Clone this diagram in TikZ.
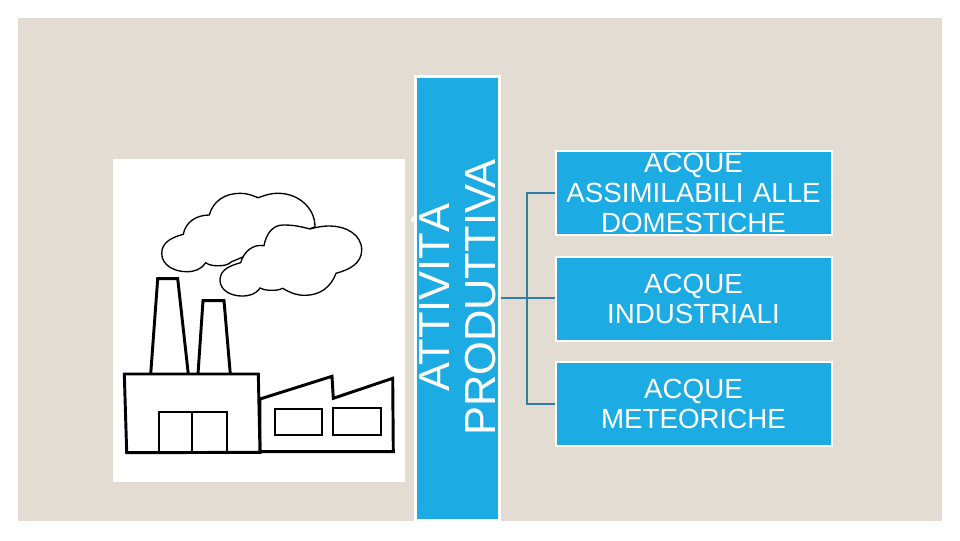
\documentclass[tikz,border=0pt]{standalone}
\usepackage{fontspec}
\setmainfont{Liberation Sans}
\definecolor{sfondo}{HTML}{E2DCD2}
\definecolor{azzurro}{HTML}{1CABE2}
\definecolor{linea}{HTML}{2E7EA6}
\begin{document}
\begin{tikzpicture}[x=0.75pt, y=0.75pt]
	\tikzset{riquadro/.style={rectangle, draw=white, fill=azzurro, text=white, line width=1.5pt, inner sep=0pt, minimum width=207pt, minimum height=62.5pt, align=center, text width=207pt, font=\fontsize{20.8}{22.6}\selectfont},
		colonna/.style={rectangle, draw=white, fill=azzurro, line width=1.6pt, inner sep=0pt, minimum width=63pt, minimum height=333pt},
		scritta/.style={text=white, inner sep=0pt, rotate=90, align=center, font=\fontsize{32.6}{34.5}\selectfont},
		ramo/.style={draw=linea, line width=1.1pt},
		spesso/.style={draw=black, line width=2.2pt, line join=miter, fill=white},
		medio/.style={draw=black, line width=1.5pt},
		nuvola/.style={draw=black, line width=1pt, fill=white}};

	\useasboundingbox (0,0) rectangle (960,-540);
	\fill[white] (0,0) rectangle (960,-540);
	\fill[sfondo] (18,-18) rectangle (942,-521);
	\fill[white] (113,-159) rectangle (405,-482);

	% nuvole
	\path[nuvola] (183.3,-234.3) to[out=195,in=90] (161.7,-253.3) to[out=-90,in=180] (186.7,-271.7) to[out=0,in=235] (205.7,-262.7)
		to[out=-35,in=180] (218.3,-265.7) to[out=0,in=-140] (231.7,-261.7) -- (315,-226.7)
		to[out=90,in=0] (278.3,-193.3) to[out=180,in=20] (258.3,-197.7) to[out=160,in=0] (240,-193.3)
		to[out=180,in=75] (209.3,-215) to[out=180,in=80] cycle;
	\path[nuvola] (310,-229) to[out=165,in=0] (283,-225) to[out=180,in=80] (264,-245.7) to[out=170,in=75] (240.7,-262.7)
		to[out=195,in=90] (220,-280) to[out=-90,in=180] (241.7,-296) to[out=0,in=235] (260,-288)
		to[out=-25,in=180] (271.7,-290.3) to[out=0,in=205] (282.7,-288.3) to[out=-30,in=180] (305,-295.3)
		to[out=0,in=-110] (336,-273.3) to[out=15,in=-90] (361.7,-250) to[out=90,in=0] (330,-226) to[out=180,in=15] cycle;

	% ciminiere
	\path[spesso] (150.7,-374) -- (157.7,-278.7) -- (177.7,-278.7) -- (188.3,-374);
	\path[spesso] (198,-374) -- (203,-300.7) -- (224,-300.7) -- (230.3,-374);

	% capannoni
	\path[spesso] (260,-399) -- (332,-376.3) -- (333.3,-398.3) -- (392.7,-378.3) -- (393.3,-451.7) -- (260,-451.7) -- cycle;
	\path[spesso] (124.3,-374) -- (258.3,-374) -- (260,-452.3) -- (126.7,-452.7) -- cycle;

	\draw[medio] (159,-452) -- (159,-412.3) -- (227.3,-412.3) -- (227.3,-452);
	\draw[medio] (192.3,-412.3) -- (192.3,-452);
	\draw[medio] (274.7,-408.7) rectangle (322,-435.3);
	\draw[medio] (333.3,-408.3) rectangle (380.7,-435.3);

	\node[colonna] (attivita) at (457.5,-298.5) {};
	\node[scritta] (titolo) at (453.5,-297.5) {ATTIVITÀ\\PRODUTTIVA};

	\node[riquadro] (assimilabili) at (693.5,-193) {ACQUE\\ASSIMILABILI ALLE\\DOMESTICHE};
	\node[riquadro] (industriali) at (693.5,-299) {ACQUE\\INDUSTRIALI};
	\node[riquadro] (meteoriche) at (693.5,-404) {ACQUE\\METEORICHE};

	\coordinate (nodo) at (527,-298);

	\draw[ramo] (attivita.east |- nodo) -- (nodo -| industriali.west);
	\draw[ramo] (nodo) |- (assimilabili.west);
	\draw[ramo] (nodo) |- (meteoriche.west);
\end{tikzpicture}
\end{document}
